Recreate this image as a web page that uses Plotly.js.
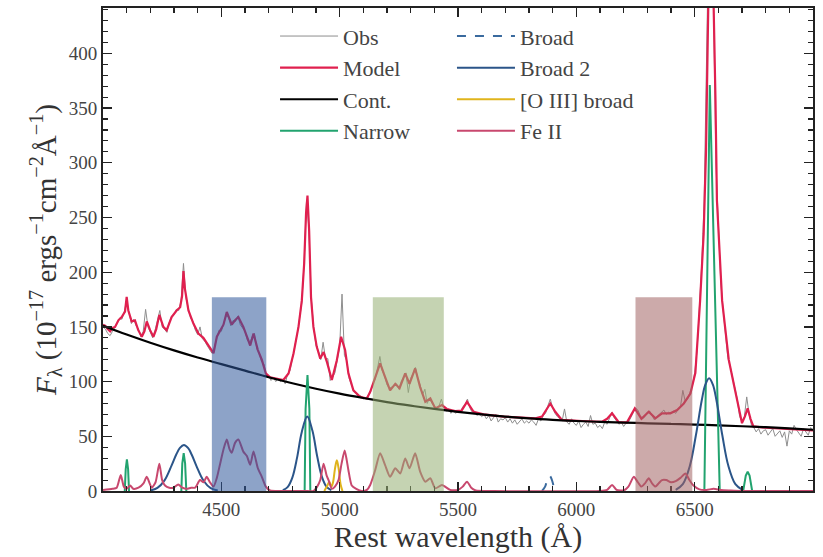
<!DOCTYPE html>
<html><head><meta charset="utf-8">
<script src="https://cdn.plot.ly/plotly-3.0.1.min.js"></script>
<style>html,body{margin:0;padding:0;background:#fff}#chart{width:823px;height:557px}</style>
</head><body><div id="chart"></div>
<script>
// Observed spectrum, sampled every 10 Å from 4000 Å
const obsStart = 4000, obsStep = 10;
const obsFlux = [
150,148,144,142,146,149,153,158,157,164,
174,163,153,157,151,148,141,146,166,150,
145,140,147,155,165,150,148,145,154,160,
161,166,165,174,208,177,167,158,155,147,
143,150,139,137,133,130,126,131,139,147,
146,154,160,159,151,156,155,160,152,149,
146,138,135,141,144,130,126,118,116,105,
105,101,104,100,103,100,102,98,107,110,
121,129,143,157,172,210,265,240,176,150,
133,128,120,136,121,121,101,104,108,120,
132,180,124,119,103,97,91,90,86,87,
84,85,87,90,98,102,112,123,110,105,
97,94,95,96,98,93,100,104,108,90,
103,107,113,103,97,88,93,80,85,80,
78,75,78,84,76,73,75,71,74,71,
73,72,77,79,84,76,72,73,69,71,
68,70,66,69,64,67,70,63,66,65,
67,63,66,62,65,61,64,66,62,64,
62,65,63,60,66,64,69,71,78,84,
76,71,68,66,64,75,63,61,66,62,
60,64,58,61,63,59,69,61,62,58,
60,57,63,61,66,72,67,64,61,63,
59,62,63,67,71,76,74,69,66,68,
72,73,69,65,68,70,72,74,70,72,
71,73,71,75,77,92,82,84,90,96,
108,128,168,208,265,360,520,510,440,298,
236,192,166,141,122,114,104,96,84,68,
64,68,86,70,60,58,54,57,52,55,
56,51,54,57,50,53,55,49,54,41,
55,52,60,56,53,50,57,54,51,58,
55];
const obsWave = obsFlux.map((_, i) => obsStart + i * obsStep);

// Total model
const modelWave = [4000,4010,4020,4030,4040,4051,4065,4079,4093,4100,4107,4121,4135,4149,4164,4175,4185,4199,4213,4225,4238,4255,4269,4290,4311,4326,4334,4340,4346,4351,4361,4382,4403,4424,4445,4467,4481,4495,4509,4523,4544,4558,4572,4593,4608,4622,4636,4654,4671,4688,4706,4734,4762,4784,4805,4826,4840,4850,4858,4864,4871,4879,4889,4903,4918,4932,4946,4967,4988,5006,5023,5037,5058,5087,5115,5129,5150,5171,5192,5213,5235,5253,5277,5295,5319,5340,5362,5383,5404,5432,5453,5488,5515,5538,5566,5608,5693,5763,5827,5855,5869,5890,5911,5939,6024,6109,6130,6151,6179,6214,6247,6275,6306,6334,6362,6397,6426,6454,6482,6503,6523,6538,6548,6553,6564,6572,6580,6588,6594,6616,6644,6665,6693,6700,6712,6724,6736,6748,6800,6900,7000];
const modelFlux = [152,151,148,146,149,150,156,159,164,177.5,165,155,156,147,141,146,155,147,141,148,161,150,147,159,165,168,178,201,185,177,165,153,144,140,133,126,141,147,152,163.7,152,156,159,150,141,133,144,129,120,107.5,104,102.5,101.5,107.5,125.7,150,174,208,254,270,238,177,150,132,121,127,118,101.4,119.6,141,129,107.5,92,86,84.6,90.7,104,116.6,104,92,98,94,107.5,98,112,95,81.5,84.6,75.5,78.5,75,73,73.5,81.5,72.4,70,68,66.9,66.4,68,72.4,80,72.4,65,64,63.3,66,71,63,62.8,75.5,66,72.4,66.4,71,71,74,80,89,108,174,235,311,445,534,500,445,357,266,174,120,98,71,62,68,75.6,66,59,57.8,56.5,55.5];

// Power-law continuum
const contWave = [4000,4100,4200,4300,4400,4500,4600,4700,4800,4900,5000,5100,5200,5300,5400,5500,5600,5700,5800,5900,6000,6100,6200,6300,6400,6500,6600,6700,6800,6900,7000];
const contFlux = [151,143,135.5,128.5,122,116,110,104,98.5,93.5,89,85,81.3,78,75,72.3,70,68,66.3,65,64,63.2,62.5,61.9,61.3,60.7,60,59.2,58.3,57.2,56];

// Narrow lines (Hδ, Hγ, Hβ, Hα+[N II], [S II])
const narrowWave = [4092,4096,4101,4106,4110,null,4331,4335,4341,4347,4352,null,4852,4856,4864,4872,4876,null,6541,6548,6556,6564,6575,6590,6600,6606,null,6705,6716,6724,6732,6743];
const narrowFlux = [0,20,29,20,0,null,0,25,34.5,25,0,null,0,75,106,75,0,null,0,113,242,371,274,141,53,0,null,0,14,17.6,14,0];

// Broad (He I)
const broadWave = [5855,5868,5878,5888,5897,5907,5918];
const broadFlux = [0,4,11,13.7,10,3,0];

// Broad 2 (Hγ, Hβ, Hα)
const broad2Wave = [4200,4230,4260,4290,4310,4325,4342,4360,4375,4395,4425,4455,4485,null,4760,4780,4800,4820,4840,4863,4885,4905,4925,4945,4965,null,6420,6450,6480,6505,6530,6545,6561,6577,6592,6617,6642,6672,6702];
const broad2Flux = [0.5,2.8,9.7,23.4,33.6,39.4,42,39.1,33.1,22.8,9.4,2.6,0.5,null,0.7,3.5,12.2,30.5,54,68,55,31.7,12.9,3.7,0.75,null,1.1,6.3,23.3,50.7,82.9,97.2,103,97.2,82.9,50.7,23.3,6.3,1.1];

// [O III] broad
const oiiiWave = [4935,4948,4956,4965,4972,4980,4988,4996,5004,5012];
const oiiiFlux = [0,5,8.5,4,8,20,28,20,6,0];

// Fe II template
const feiiWave = [4000,4040,4058,4075,4088,4100,4115,4128,4150,4171,4185,4206,4222,4238,4250,4262,4280,4297,4318,4335,4354,4372,4389,4410,4425,4438,4452,4467,4481,4495,4509,4523,4535,4544,4558,4572,4593,4608,4622,4636,4654,4671,4688,4706,4750,4850,4890,4905,4918,4932,4945,4953,4967,4980,4995,5008,5021,5030,5037,5051,5070,5094,5115,5129,5150,5171,5192,5213,5235,5256,5277,5295,5319,5340,5362,5383,5404,5432,5467,5500,5520,5538,5556,5575,5650,6100,6130,6151,6170,6200,6220,6243,6260,6275,6290,6306,6320,6334,6348,6362,6380,6400,6420,6440,6461,6478,6495,6520,6550,6580,6610,6650,6700,7000];
const feiiFlux = [1,2,3,14.6,4,2,5,2,3,7,13,3,8,25,10,5,3,3,6,3,2,3,3,10,8,13,8,4,12,25,38,47,38,35,44,47,36,32,24,36,21,13,4,0.5,0,0,0,4,10,25,14,10,2,4,10,25,37,28,19,5,2,0,1,5.5,19,34.4,23.7,13,20.7,16,29.8,20.7,34.4,17.7,8.5,11.6,2.4,5.5,1,1,4,8.5,3,0.5,0,0,1,5.5,1,0.5,4,13,8,4,7,11.6,7,4,7,10,10,8,9,12,16,10,5,1.5,1,2,1,0.5,0,0];

// Shaded windows
const bandX0 = [4460, 5140, 6250];
const bandX1 = [4690, 5440, 6490];
const bandTop = 177;
const bandColors = ['rgb(47,88,155)', 'rgb(150,175,115)', 'rgb(163,100,100)'];

const traces = [
  {x: obsWave, y: obsFlux, name: 'Obs', mode: 'lines', line: {color: '#8e8e8e', width: 1}, legend: 'legend'},
  {x: modelWave, y: modelFlux, name: 'Model', mode: 'lines', line: {color: '#e0204f', width: 2.2}, legend: 'legend'},
  {x: contWave, y: contFlux, name: 'Cont.', mode: 'lines', line: {color: '#000', width: 2.2, shape: 'spline'}, legend: 'legend'},
  {x: narrowWave, y: narrowFlux, name: 'Narrow', mode: 'lines', line: {color: '#22a36f', width: 2}, legend: 'legend', connectgaps: false},
  {x: broadWave, y: broadFlux, name: 'Broad', mode: 'lines', line: {color: '#3a6a9e', width: 2, dash: 'dash', shape: 'spline'}, legend: 'legend2'},
  {x: broad2Wave, y: broad2Flux, name: 'Broad 2', mode: 'lines', line: {color: '#2b5589', width: 2, shape: 'spline'}, legend: 'legend2', connectgaps: false},
  {x: oiiiWave, y: oiiiFlux, name: '[O III] broad', mode: 'lines', line: {color: '#e0b41c', width: 2, shape: 'spline'}, legend: 'legend2'},
  {x: feiiWave, y: feiiFlux, name: 'Fe II', mode: 'lines', line: {color: '#c8486e', width: 2, shape: 'spline', smoothing: 0.6}, legend: 'legend2'}
];

const shapes = bandX0.map((x0, i) => ({
  type: 'rect', xref: 'x', yref: 'y', x0: x0, x1: bandX1[i], y0: 0, y1: bandTop,
  fillcolor: bandColors[i], opacity: 0.55, line: {width: 0}, layer: 'above'
}));

const FONT = "'Liberation Serif', 'DejaVu Serif', serif";

const axisCommon = {
  ticks: 'inside', ticklen: 9, tickwidth: 1.3, tickcolor: '#222',
  showline: true, linecolor: '#222', linewidth: 2, mirror: 'ticks',
  showgrid: false, zeroline: false,
  tickfont: {size: 19, color: '#444', family: FONT}
};

const legendCommon = {xanchor: 'left', yanchor: 'top', bgcolor: 'rgba(0,0,0,0)', borderwidth: 0,
  itemwidth: 58, font: {size: 22, color: '#444', family: FONT}};

const layout = {
  width: 823, height: 557,
  margin: {l: 103, r: 10, t: 8, b: 66},
  paper_bgcolor: '#fff', plot_bgcolor: '#fff',
  font: {family: FONT, color: '#333'},
  showlegend: true,
  xaxis: Object.assign({}, axisCommon, {
    range: [4000, 7000], tickmode: 'array', tickvals: [4500, 5000, 5500, 6000, 6500],
    minor: {tickmode: 'linear', tick0: 4000, dtick: 100, ticks: 'inside', ticklen: 5, tickwidth: 1.1, tickcolor: '#222', showgrid: false},
    title: {text: 'Rest wavelength (Å)', font: {size: 30, color: '#333', family: FONT}, standoff: 5}
  }),
  yaxis: Object.assign({}, axisCommon, {
    range: [0, 441.5], dtick: 50, tick0: 0,
    minor: {dtick: 10, ticks: 'inside', ticklen: 5, tickwidth: 1.1, tickcolor: '#222', showgrid: false},
    title: {text: '<i>F</i><sub>λ</sub> (10<sup>−17</sup> ergs<sup>−1</sup>cm<sup>−2</sup>Å<sup>−1</sup>)', font: {size: 29, color: '#333', family: FONT}, standoff: 4}
  }),
  legend: Object.assign({x: 0.2423, y: 0.985}, legendCommon),
  legend2: Object.assign({x: 0.4915, y: 0.985}, legendCommon),
  shapes: shapes
};

Plotly.newPlot('chart', traces, layout, {displayModeBar: false, staticPlot: true});
</script>
</body></html>
